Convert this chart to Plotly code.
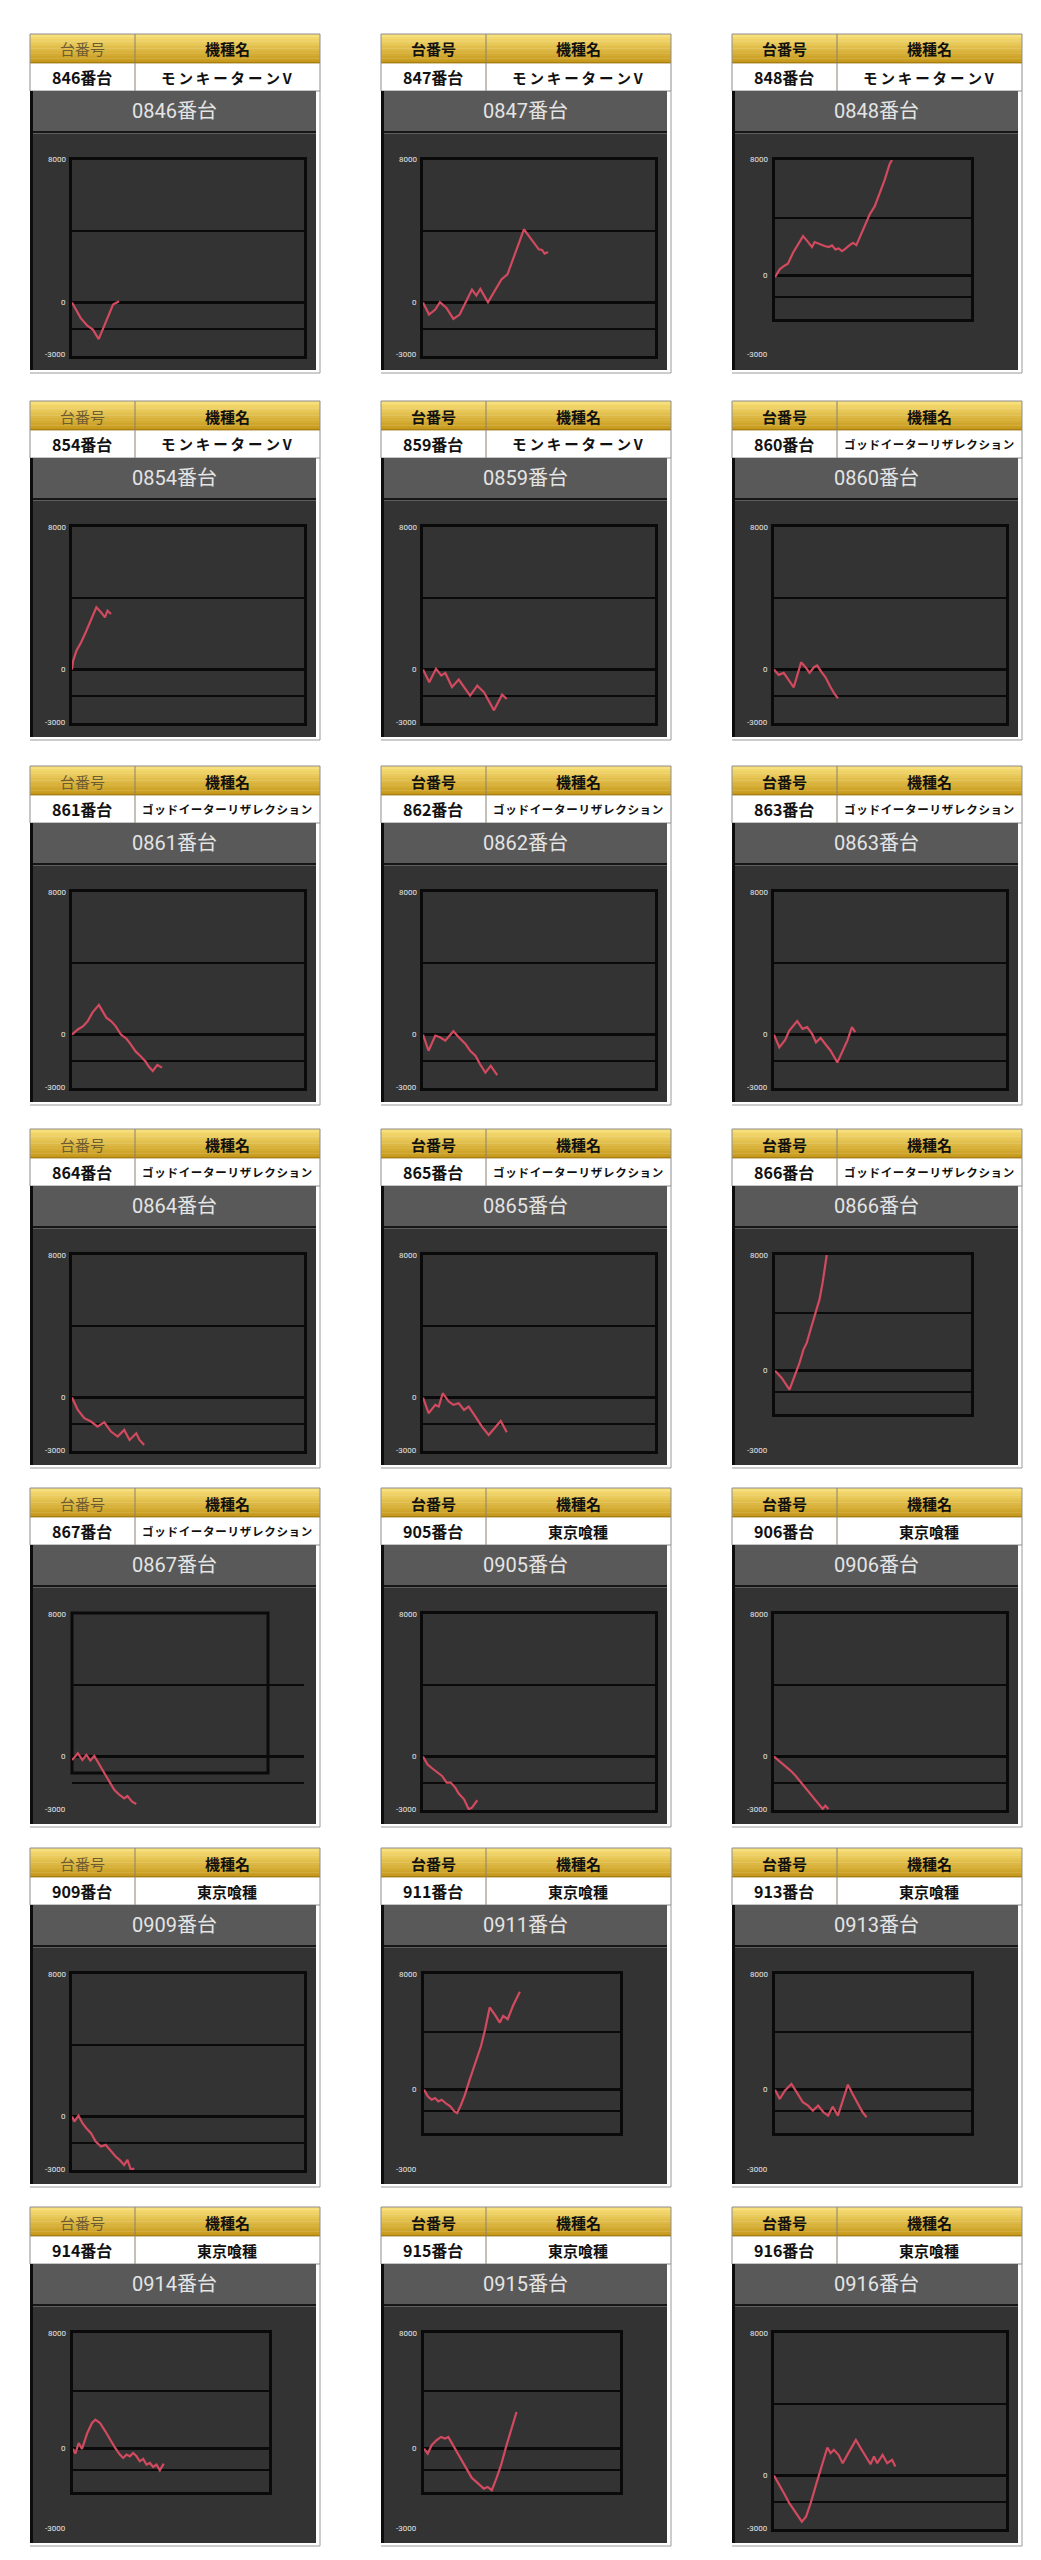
import plotly.graph_objects as go

W, H = 1041, 2560

# ---------------- data ----------------
dai_numbers = ["846", "847", "848", "854", "859", "860", "861", "862", "863", "864", "865",
               "866", "867", "905", "906", "909", "911", "913", "914", "915", "916"]
machine_names = ["モンキーターンV", "モンキーターンV", "モンキーターンV", "モンキーターンV", "モンキーターンV",
                 "ゴッドイーターリザレクション", "ゴッドイーターリザレクション", "ゴッドイーターリザレクション",
                 "ゴッドイーターリザレクション", "ゴッドイーターリザレクション", "ゴッドイーターリザレクション",
                 "ゴッドイーターリザレクション", "ゴッドイーターリザレクション",
                 "東京喰種", "東京喰種", "東京喰種", "東京喰種", "東京喰種", "東京喰種", "東京喰種", "東京喰種"]
header_labels = ["台番号", "機種名"]
y_tick_values = [8000, 0, -3000]
y_tick_text = ["8000", "0", "-3000"]
grid_values = [4000, -1500]
y_range = [-3000, 8000]
x_range = [0, 100]

x_0846 = [0, 3.7, 6.6, 9.0, 11.5, 14.5, 17.7, 20.3]
y_0846 = [0, -860, -1300, -1520, -2050, -1140, -110, 75]

x_0847 = [0, 2.6, 5.3, 7.3, 10.1, 13.1, 15.8, 18.7, 21.1, 23.0, 24.7, 28.0, 30.9, 33.8, 36.4, 38.8,
          40.9, 43.5, 46.7, 49.9, 51.3, 52.4, 53.9]
y_0847 = [0, -676, -394, 20, -300, -920, -676, 75, 732, 394, 770, 20, 638, 1296, 1577, 2423,
          3268, 4113, 3550, 2986, 2950, 2743, 2836]

x_0848 = [0, 2.4, 4.6, 6.6, 9.2, 11.7, 14.3, 16.5, 18.9, 20.2, 22.8, 25.3, 27.4, 29.1, 30.8, 32.5,
          34.2, 35.5, 38.1, 39.8, 41.5, 44.0, 46.1, 48.3, 50.9, 53.4, 56.0, 58.5, 59.7]
y_0848 = [-100, 437, 667, 828, 1586, 2161, 2736, 2391, 1977, 2322, 2161, 2046, 1977, 2092, 1816, 1885,
          1701, 1816, 2115, 2276, 2115, 2851, 3540, 4230, 4805, 5724, 6644, 7724, 8000]

x_0854 = [0, 0.5, 1.9, 3.9, 6.2, 8.2, 10.5, 12.5, 14.2, 15.3, 16.8]
y_0854 = [0, 500, 1052, 1521, 2178, 2836, 3493, 3211, 2930, 3305, 3117]

x_0859 = [0, 2.7, 5.6, 7.9, 9.6, 12.5, 15.4, 20.3, 23.4, 26.3, 30.6, 34.1, 36.1]
y_0859 = [0, -714, 38, -338, -188, -977, -563, -1465, -901, -1277, -2291, -1408, -1652]

x_0860 = [0, 2.0, 4.2, 6.4, 8.5, 10.0, 11.7, 13.6, 15.3, 17.2, 18.6, 20.5, 22.2, 24.4, 26.1, 27.6]
y_0860 = [0, -300, -188, -620, -995, -338, 413, 131, -188, 131, 225, -150, -432, -995, -1370, -1615]

x_0861 = [0, 2.5, 4.8, 6.8, 8.8, 10.5, 11.6, 13.1, 14.8, 16.8, 18.8, 21.1, 23.4, 25.4, 27.4, 29.7,
          31.7, 33.1, 34.8, 36.8, 38.8]
y_0861 = [0, 284, 473, 758, 1231, 1515, 1667, 1326, 947, 758, 473, 0, -227, -568, -947, -1231,
          -1515, -1799, -2045, -1705, -1856]

x_0862 = [0, 2.4, 5.3, 7.3, 9.6, 13.1, 15.4, 18.3, 20.3, 22.6, 24.6, 26.9, 29.2, 32.0]
y_0862 = [0, -909, -57, -152, -341, 189, -152, -530, -909, -1193, -1667, -2140, -1761, -2273]

x_0863 = [0, 2.3, 4.8, 6.6, 10.0, 12.3, 14.3, 16.4, 18.1, 20.1, 22.1, 24.4, 27.3, 29.6, 31.6, 33.6, 35.0]
y_0863 = [0, -720, -303, 227, 758, 322, 417, 38, -436, -189, -530, -909, -1572, -909, -341, 417, 133]

x_0864 = [0, 2.5, 5.3, 8.2, 11.0, 13.9, 16.8, 19.7, 22.5, 24.8, 27.7, 29.1, 31.1]
y_0864 = [0, -693, -1161, -1348, -1629, -1386, -1910, -2191, -1816, -2378, -2004, -2378, -2659]

x_0865 = [0, 2.4, 5.3, 6.8, 8.5, 11.1, 13.1, 15.4, 17.7, 19.7, 22.6, 25.4, 28.3, 31.2, 33.5, 36.1]
y_0865 = [0, -880, -412, -506, 243, -225, -412, -318, -693, -506, -1067, -1629, -2097, -1629, -1311, -1948]

x_0866 = [0, 3.4, 7.4, 10.1, 12.5, 14.5, 16.2, 17.9, 19.6, 21.0, 22.7, 24.3, 26.4]
y_0866 = [0, -509, -1318, -393, 532, 1457, 1920, 2729, 3539, 4048, 4927, 6084, 8000]

x_0867 = [0, 2.5, 4.5, 6.2, 7.9, 9.6, 11.9, 13.9, 15.9, 18.2, 20.5, 22.5, 23.9, 25.9, 27.7]
y_0867 = [-200, 185, -191, 90, -225, 34, -472, -938, -1404, -1873, -2157, -2343, -2213, -2528, -2663]

x_0905 = [0, 1.9, 3.9, 6.2, 8.2, 10.2, 11.9, 13.9, 15.4, 17.7, 19.7, 21.1, 22.9, 23.4]
y_0905 = [0, -433, -657, -900, -1088, -1462, -1462, -1742, -2079, -2398, -2960, -2866, -2491, -2454]

x_0906 = [0, 2.3, 4.8, 7.1, 9.2, 11.5, 14.3, 16.6, 18.7, 21.0, 22.1, 23.5]
y_0906 = [0, -262, -506, -787, -1067, -1442, -1910, -2247, -2566, -2940, -2753, -2940]

x_0909 = [0, 1.0, 2.8, 4.5, 6.2, 8.2, 10.2, 12.5, 14.5, 16.8, 18.8, 20.5, 22.5, 23.9, 25.4, 26.8]
y_0909 = [0, -281, 56, -375, -655, -936, -1404, -1685, -1592, -1966, -2247, -2434, -2715, -2434, -2996, -2903]

x_0911 = [0, 1.9, 3.9, 5.6, 7.3, 9.0, 11.4, 13.4, 15.5, 16.9, 18.9, 20.9, 23.3, 26.1, 29.1, 31.2,
          33.5, 36.3, 38.7, 40.4, 42.7, 45.4, 48.9]
y_0911 = [0, -464, -696, -580, -812, -696, -974, -1159, -1507, -1623, -1043, -348, 696, 1855, 3015, 4174,
          5684, 5150, 4638, 5104, 4870, 5800, 6773]

x_0913 = [0, 2.4, 5.0, 8.4, 11.1, 14.2, 16.9, 19.3, 22.0, 24.7, 27.1, 29.4, 32.1, 34.5, 37.2, 39.6,
          42.3, 44.7, 46.7]
y_0913 = [0, -645, -69, 392, -184, -876, -1107, -1453, -1107, -1568, -1798, -1176, -1798, -761, 346, -300,
          -991, -1568, -1914]

x_0914 = [0, 1.2, 2.9, 4.6, 7.3, 9.7, 11.4, 13.8, 16.5, 18.8, 21.5, 23.9, 25.6, 27.3, 29.0, 30.7,
          32.4, 34.1, 35.8, 37.5, 39.2, 40.9, 42.6, 44.3, 46.3]
y_0914 = [0, -346, 392, -23, 1084, 1775, 2006, 1775, 1199, 622, 46, -415, -645, -415, -530, -300,
          -530, -876, -714, -1107, -991, -1268, -1107, -1499, -1038]

x_0915 = [0, 1.9, 3.9, 6.3, 8.7, 10.7, 12.4, 14.8, 17.5, 20.9, 24.4, 27.7, 30.5, 32.5, 34.6, 36.9,
          39.3, 42.1, 44.5, 47.2]
y_0915 = [0, -346, 235, 581, 810, 692, 810, 235, -456, -1266, -2026, -2420, -2766, -2649, -2877, -2075,
          -1148, 235, 1383, 2538]

x_0916 = [0, 2.0, 4.3, 6.6, 9.2, 12.0, 13.8, 15.8, 18.1, 20.4, 23.0, 24.4, 25.8, 27.8, 29.6, 31.6,
          33.6, 35.3, 37.4, 39.7, 41.6, 43.1, 44.5, 46.8, 48.8, 50.9, 52.3]
y_0916 = [0, -431, -993, -1554, -2022, -2584, -2303, -1554, -524, 412, 1573, 1255, 1442, 1161, 693, 1161,
          1629, 2004, 1536, 1067, 637, 1067, 693, 1161, 693, 880, 505]

series_x = [x_0846, x_0847, x_0848, x_0854, x_0859, x_0860, x_0861, x_0862, x_0863, x_0864, x_0865,
            x_0866, x_0867, x_0905, x_0906, x_0909, x_0911, x_0913, x_0914, x_0915, x_0916]
series_y = [y_0846, y_0847, y_0848, y_0854, y_0859, y_0860, y_0861, y_0862, y_0863, y_0864, y_0865,
            y_0866, y_0867, y_0905, y_0906, y_0909, y_0911, y_0913, y_0914, y_0915, y_0916]

# ---------------- layout geometry (pixels) ----------------
COL_LEFT = [22, 373, 724]
ROW_TOP = [26, 393, 758, 1121, 1480, 1840, 2199]
PANEL_W = 290
panel_kind = ["std", "std", "small",
              "std", "std", "std",
              "std", "std", "std",
              "std", "std", "small",
              "mixed", "std", "std",
              "std", "small", "small",
              "small", "small", "std"]
PLOT_BOX = {"std": (42, 274, 126, 322), "small": (43, 239, 126, 285), "mixed": (42, 274, 126, 322)}

LINE_RED = "#d24a5f"
FRAME = "#0a0a0a"
DARK = "#333333"
TITLE_BG = "#595959"
CJK = "Noto Sans CJK JP"
NARROW = "Roboto, Noto Sans CJK JP"


def px(x):
    return x / W


def py(y):
    return 1 - y / H


shapes = []
annotations = []


def rect(x0, y0, x1, y1, fill, lc=None, lw=0, layer="below"):
    shapes.append(dict(type="rect", xref="paper", yref="paper", x0=px(x0), x1=px(x1),
                       y0=py(y1), y1=py(y0), fillcolor=fill, layer=layer,
                       line=dict(width=lw, color=lc if lc else fill)))


def line(x0, y0, x1, y1, color, width=1, layer="below"):
    shapes.append(dict(type="line", xref="paper", yref="paper", x0=px(x0), x1=px(x1),
                       y0=py(y0), y1=py(y1), layer=layer, line=dict(color=color, width=width)))


def text(x, y, s, size, color, family=CJK, xanchor="center"):
    annotations.append(dict(xref="paper", yref="paper", x=px(x), y=py(y), text=s, showarrow=False,
                            xanchor=xanchor, yanchor="middle",
                            font=dict(size=size, color=color, family=family)))


def spaced(s, gap):
    return gap.join(list(s))


fig = go.Figure()
layout_axes = {}

top_col = (248, 222, 118)
bot_col = (198, 153, 26)
n_bands = 12

for i, num in enumerate(dai_numbers):
    r, c = divmod(i, 3)
    L = COL_LEFT[c]
    T = ROW_TOP[r]
    kind = panel_kind[i]

    # header (gold gradient)
    bh = 29 / n_bands
    for b in range(n_bands):
        f = b / (n_bands - 1)
        col = "rgb(%d,%d,%d)" % tuple(round(top_col[k] + (bot_col[k] - top_col[k]) * f) for k in range(3))
        rect(L, T + b * bh, L + PANEL_W, T + (b + 1) * bh + 0.3, col)
    line(L, T + 29, L + PANEL_W, T + 29, "#9c7612", 1.5)
    # white row
    rect(L, T + 29.5, L + PANEL_W, T + 57, "#ffffff")
    line(L + 105, T, L + 105, T + 57, "#8a8070", 1)
    rect(L, T, L + PANEL_W, T + 57, "rgba(0,0,0,0)", "#8d8d8d", 1)
    # title bar and chart area
    rect(L, T + 57, L + 286, T + 97, TITLE_BG)
    rect(L, T + 97, L + 286, T + 99.5, "#161616")
    rect(L, T + 99.5, L + 286, T + 336, DARK)
    rect(L, T + 57, L + 3, T + 336, "#0d0d0d")
    line(L, T + 339, L + PANEL_W, T + 339, "#9a9a9a", 1)
    line(L + PANEL_W, T + 57, L + PANEL_W, T + 339, "#9a9a9a", 1)

    # texts
    if c == 0:
        text(L + 52, T + 15, header_labels[0], 15, "#6e5c33")
    else:
        text(L + 52, T + 15, "<b>" + header_labels[0] + "</b>", 15, "#111111")
    text(L + 197, T + 15, "<b>" + header_labels[1] + "</b>", 15, "#111111")
    text(L + 52, T + 43, "<b>" + num + "番台</b>", 16, "#111111")
    name = machine_names[i]
    if len(name) > 10:
        text(L + 197, T + 43, "<b>" + spaced(name, "\u200a") + "</b>", 11.5, "#111111")
    elif "V" in name:
        text(L + 197, T + 43, "<b>" + spaced(name, "\u2009") + "</b>", 14.5, "#111111")
    else:
        text(L + 197, T + 43, "<b>" + name + "</b>", 15, "#111111")
    text(L + 144, T + 77, "0" + num + "番台", 20, "#e4e4e4", NARROW)

    # plot area
    x0, x1, y0, y1 = PLOT_BOX[kind]
    k = i + 1
    xa = "xaxis" if k == 1 else "xaxis%d" % k
    ya = "yaxis" if k == 1 else "yaxis%d" % k
    xr = "x" if k == 1 else "x%d" % k
    yr = "y" if k == 1 else "y%d" % k
    frame_on = kind != "mixed"
    layout_axes[xa] = dict(domain=[px(L + x0), px(L + x1)], range=x_range, anchor=yr,
                           showgrid=False, zeroline=False, showticklabels=False, ticks="",
                           showline=frame_on, mirror=True, linecolor=FRAME, linewidth=3)
    layout_axes[ya] = dict(domain=[py(T + y1), py(T + y0)], range=y_range, anchor=xr,
                           tickvals=grid_values, showticklabels=False, ticks="",
                           showgrid=True, gridcolor=FRAME, gridwidth=2,
                           zeroline=True, zerolinecolor=FRAME, zerolinewidth=3,
                           showline=frame_on, mirror=True, linecolor=FRAME, linewidth=3)
    if kind == "mixed":
        rect(L + 42, T + 125, L + 238, T + 285, "rgba(0,0,0,0)", FRAME, 3)

    # y labels
    span = y_range[1] - y_range[0]
    for v, s in zip(y_tick_values, y_tick_text):
        if v == y_range[0]:
            ly = T + 321
        else:
            ly = T + y0 + (y_range[1] - v) / span * (y1 - y0)
        text(L + 38, ly, s, 8, "#e6e6e6", NARROW, xanchor="right")

    fig.add_trace(go.Scatter(x=series_x[i], y=series_y[i], mode="lines",
                             line=dict(color=LINE_RED, width=2.2), xaxis=xr, yaxis=yr,
                             hoverinfo="skip"))

# right side divider
line(1040, 25, 1040, 1148, "#6a6a6a", 1)

fig.update_layout(width=W, height=H, margin=dict(l=0, r=0, t=0, b=0),
                  paper_bgcolor="#ffffff", plot_bgcolor="rgba(0,0,0,0)",
                  showlegend=False, shapes=shapes, annotations=annotations, **layout_axes)

fig.write_html("out.html")
